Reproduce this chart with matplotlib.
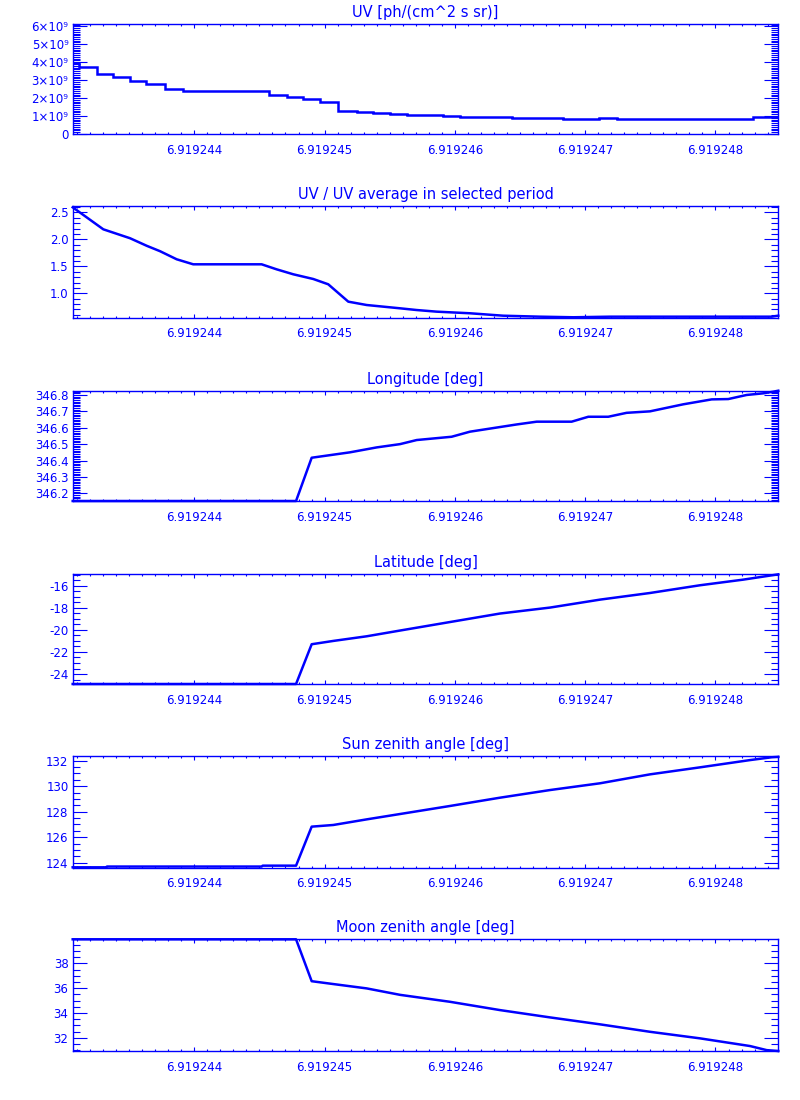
import numpy as np
import matplotlib
matplotlib.use("Agg")
import matplotlib.pyplot as plt
from matplotlib import ticker

# x positions are stored as micro-offsets from 6.91924 (so 4.0 -> 6.919244)
x0 = 6.91924
xlim_off = [3.067, 8.482]

# UV counts: step levels (x 1e9) between edges
uv_edges = [3.067, 3.115, 3.251, 3.376, 3.507, 3.627, 3.775, 3.913, 4.576, 4.709,
            4.832, 4.965, 5.105, 5.246, 5.371, 5.502, 5.630, 5.911, 6.039, 6.436,
            6.832, 7.106, 7.242, 8.290, 8.418, 8.482]
uv_levels = [3.98, 3.74, 3.35, 3.17, 2.98, 2.80, 2.52, 2.37, 2.19, 2.06,
             1.96, 1.80, 1.30, 1.22, 1.17, 1.11, 1.06, 1.00, 0.94, 0.89,
             0.83, 0.91, 0.85, 0.93, 0.96]

# UV / average
ratio_x = [3.067, 3.302, 3.507, 3.635, 3.737, 3.865, 3.992, 4.517, 4.632, 4.760,
           4.913, 5.028, 5.182, 5.323, 5.579, 5.707, 5.860, 6.116, 6.371, 6.653,
           6.909, 7.190, 8.431, 8.482]
ratio_y = [2.593, 2.185, 2.02, 1.88, 1.78, 1.63, 1.537, 1.537, 1.444, 1.352,
           1.265, 1.167, 0.845, 0.783, 0.722, 0.69, 0.66, 0.63, 0.585, 0.567,
           0.556, 0.567, 0.567, 0.585]

# longitude
lon_x = [3.067, 4.781, 4.901, 5.195, 5.40, 5.579, 5.707, 5.975, 6.116, 6.474,
         6.628, 6.896, 7.024, 7.177, 7.318, 7.497, 7.753, 7.971, 8.098, 8.239,
         8.367, 8.444, 8.482]
lon_y = [346.153, 346.153, 346.417, 346.45, 346.48, 346.50, 346.525, 346.545, 346.576, 346.62,
         346.637, 346.637, 346.667, 346.667, 346.691, 346.70, 346.743, 346.773, 346.775, 346.80,
         346.81, 346.82, 346.826]

# latitude
lat_x = [3.067, 4.781, 4.901, 5.067, 5.323, 5.579, 5.962, 6.346, 6.730, 7.114,
         7.497, 7.881, 8.213, 8.482]
lat_y = [-24.9, -24.9, -21.30, -21.0, -20.58, -20.06, -19.29, -18.52, -17.98, -17.26,
         -16.66, -15.96, -15.45, -14.97]

# sun zenith angle
sun_x = [3.067, 3.323, 3.33, 4.517, 4.525, 4.781, 4.901, 5.067, 5.323, 5.579,
         5.962, 6.346, 6.730, 7.114, 7.497, 7.881, 8.265, 8.431, 8.482]
sun_y = [123.64, 123.64, 123.70, 123.70, 123.77, 123.77, 126.83, 126.96, 127.4, 127.82,
         128.45, 129.1, 129.7, 130.23, 130.93, 131.48, 132.05, 132.27, 132.3]

# moon zenith angle
moon_x = [3.067, 4.781, 4.901, 5.067, 5.323, 5.579, 5.962, 6.346, 6.730, 7.114,
          7.497, 7.881, 8.265, 8.393, 8.482]
moon_y = [39.94, 39.94, 36.56, 36.33, 35.98, 35.46, 34.9, 34.23, 33.64, 33.08,
          32.48, 31.95, 31.33, 31.0, 30.93]

titles = ["UV [ph/(cm^2 s sr)]", "UV / UV average in selected period",
          "Longitude [deg]", "Latitude [deg]", "Sun zenith angle [deg]",
          "Moon zenith angle [deg]"]

blue = "#0000ff"
plt.rcParams["font.family"] = "DejaVu Sans"

fig = plt.figure(figsize=(8, 11), dpi=100)

# panel top / bottom in pixels
tops = [24, 206, 390.7, 574, 756, 939.3]
bots = [134, 317.7, 501, 684, 867.7, 1051]
left, right = 72.7, 778.3

axes = []
for i in range(6):
    ax = fig.add_axes([left / 800, 1 - bots[i] / 1100,
                       (right - left) / 800, (bots[i] - tops[i]) / 1100])
    for s in ax.spines.values():
        s.set_color(blue)
        s.set_linewidth(1.0)
    ax.tick_params(axis="both", which="both", direction="in", colors=blue,
                   top=True, right=True, labelsize=8.5, width=0.8)
    ax.tick_params(axis="x", which="major", length=3, pad=7)
    ax.tick_params(axis="x", which="minor", length=1.5)
    ax.tick_params(axis="y", which="major", length=10, pad=3)
    ax.tick_params(axis="y", which="minor", length=5)
    ax.set_title(titles[i], color=blue, fontsize=10.5, pad=5)
    ax.set_xlim(x0 + xlim_off[0] * 1e-6, x0 + xlim_off[1] * 1e-6)
    ax.xaxis.set_major_locator(ticker.FixedLocator([6.919244, 6.919245, 6.919246,
                                                    6.919247, 6.919248]))
    ax.xaxis.set_major_formatter(ticker.FormatStrFormatter("%.6f"))
    ax.xaxis.set_minor_locator(ticker.MultipleLocator(1e-7))
    axes.append(ax)

def xs(vals):
    return x0 + np.array(vals) * 1e-6

lw = 1.8

ax = axes[0]
ax.stairs(np.array(uv_levels) * 1e9, xs(uv_edges), baseline=None, color=blue, lw=lw)
ax.set_ylim(0, 6.13e9)
ax.yaxis.set_major_locator(ticker.MultipleLocator(1e9))
ax.yaxis.set_minor_locator(ticker.MultipleLocator(1e8))
ax.yaxis.set_major_formatter(ticker.FuncFormatter(
    lambda v, p: "0" if abs(v) < 1 else "%d×10⁹" % round(v / 1e9)))

ax = axes[1]
ax.plot(xs(ratio_x), ratio_y, color=blue, lw=lw, clip_on=False)
ax.set_ylim(0.548, 2.617)
ax.yaxis.set_major_locator(ticker.FixedLocator([1.0, 1.5, 2.0, 2.5]))
ax.yaxis.set_minor_locator(ticker.MultipleLocator(0.1))
ax.yaxis.set_major_formatter(ticker.FormatStrFormatter("%.1f"))

ax = axes[2]
ax.plot(xs(lon_x), lon_y, color=blue, lw=lw, clip_on=False)
ax.set_ylim(346.153, 346.826)
ax.yaxis.set_major_locator(ticker.MultipleLocator(0.1))
ax.yaxis.set_minor_locator(ticker.MultipleLocator(0.01))
ax.yaxis.set_major_formatter(ticker.FormatStrFormatter("%.1f"))

ax = axes[3]
ax.plot(xs(lat_x), lat_y, color=blue, lw=lw, clip_on=False)
ax.set_ylim(-24.9, -14.94)
ax.yaxis.set_major_locator(ticker.MultipleLocator(2))
ax.yaxis.set_minor_locator(ticker.MultipleLocator(0.5))
ax.yaxis.set_major_formatter(ticker.FormatStrFormatter("%d"))

ax = axes[4]
ax.plot(xs(sun_x), sun_y, color=blue, lw=lw, clip_on=False)
ax.set_ylim(123.61, 132.37)
ax.yaxis.set_major_locator(ticker.MultipleLocator(2))
ax.yaxis.set_minor_locator(ticker.MultipleLocator(0.5))
ax.yaxis.set_major_formatter(ticker.FormatStrFormatter("%d"))

ax = axes[5]
ax.plot(xs(moon_x), moon_y, color=blue, lw=lw, clip_on=False)
ax.set_ylim(30.93, 39.94)
ax.yaxis.set_major_locator(ticker.MultipleLocator(2))
ax.yaxis.set_minor_locator(ticker.MultipleLocator(0.5))
ax.yaxis.set_major_formatter(ticker.FormatStrFormatter("%d"))

fig.savefig("out.png", dpi=100, facecolor="white")
